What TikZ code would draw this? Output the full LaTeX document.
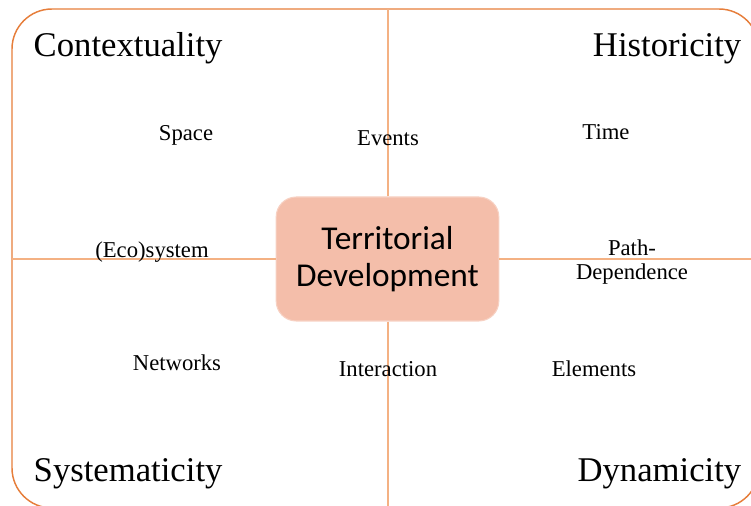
\documentclass[tikz,border=0pt]{standalone}
\usepackage{fontspec}
\setmainfont{Liberation Serif}
\newfontfamily\calibri{Carlito}
\usetikzlibrary{positioning}
\definecolor{corange}{HTML}{E67E3B}
\definecolor{clight}{HTML}{F4B183}
\definecolor{csalmon}{HTML}{F4BEAA}
\tikzset{
  every picture/.style={line width=1.1pt},
  corner/.style={font=\fontsize{26}{30}\selectfont, inner sep=0pt},
  word/.style={font=\fontsize{17}{17.5}\selectfont, inner sep=0pt, align=center},
  axis/.style={draw=clight, line width=1.5pt},
  core/.style={fill=csalmon, draw=csalmon!70!white, line width=0.8pt, rounded corners=15pt,
    minimum width=167pt, minimum height=93pt, align=center,
    font=\calibri\fontsize{25}{28}\selectfont},
}

\begin{document}
\begin{tikzpicture}[x=0.75pt, y=-0.75pt]
  \useasboundingbox (0,0) rectangle (751,506);
  \clip (0,0) rectangle (751,506);
  % frame
  \draw[corange, rounded corners=30pt] (12,9) rectangle (759,508);
  % centre and the cross through it
  \node[core] (td) at (387.5,259) {Territorial\\Development};
  \coordinate (top) at (387,9);
  \coordinate (bottom) at (387,508);
  \coordinate (left) at (12,259);
  \coordinate (right) at (759,259);
  \draw[axis] (td.north) -- (td.north |- top);
  \draw[axis] (td.south) -- (td.south |- bottom);
  \draw[axis] (td.west) -- (left);
  \draw[axis] (td.east) -- (right);
  % quadrant titles
  \node[corner, anchor=base west] (ctx) at (33,57) {Contextuality};
  \node[corner, anchor=base east] (hist) at (742,57) {Historicity};
  \node[corner, anchor=base west] (sys) at (33,482) {Systematicity};
  \node[corner, anchor=base east] (dyn) at (742,482) {Dynamicity};
  % keywords
  \node[word, anchor=base] (space) at (186,141) {Space};
  \node[word, anchor=base] (events) at (388,146) {Events};
  \node[word, anchor=base] (time) at (606,140) {Time};
  \node[word, anchor=base] (eco) at (152,258) {(Eco)system};
  \node[word] (path) at (632,262) {Path-\\Dependence};
  \node[word, anchor=base] (net) at (177,371) {Networks};
  \node[word, anchor=base] (inter) at (388,377) {Interaction};
  \node[word, anchor=base] (elem) at (594,377) {Elements};
\end{tikzpicture}
\end{document}
